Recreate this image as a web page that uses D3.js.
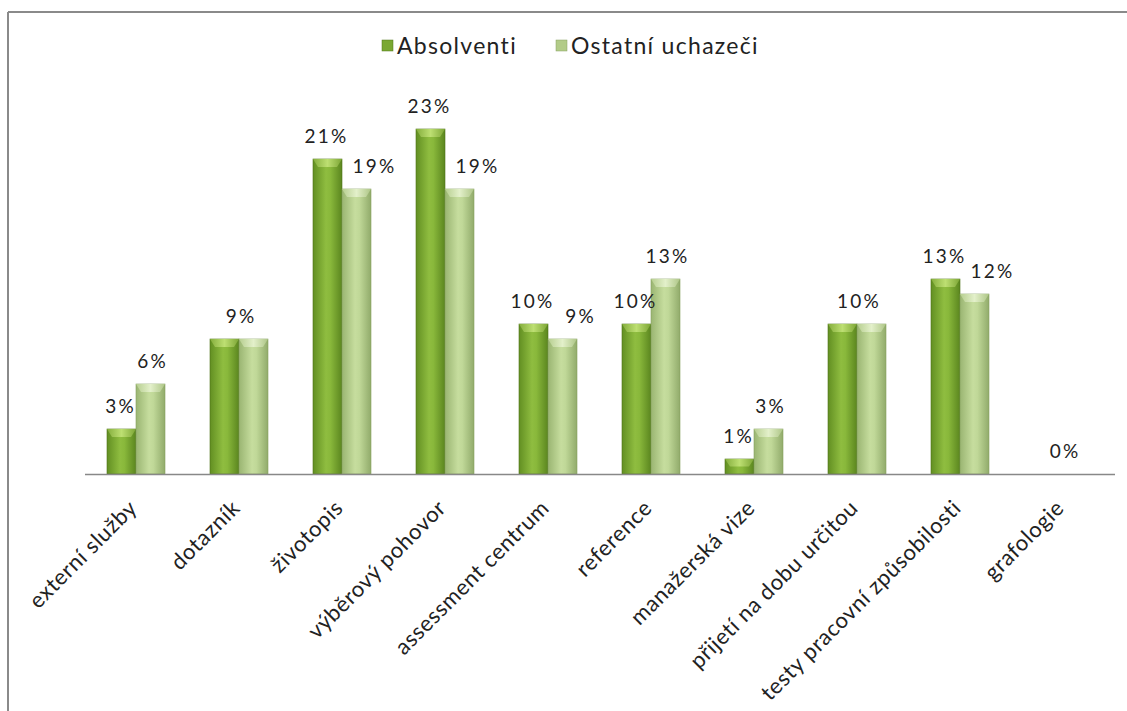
<!DOCTYPE html>
<html>
<head>
<meta charset="utf-8">
<script src="https://cdn.jsdelivr.net/npm/d3@7"></script>
<style>
  body { margin: 0; background: #fff; }
  text { font-family: Lato, "Open Sans", sans-serif; fill: #222; }
</style>
</head>
<body>
<svg id="chart" width="1127" height="711"></svg>
<script>
const categories = ["externí služby", "dotazník", "životopis", "výběrový pohovor", "assessment centrum",
    "reference", "manažerská vize", "přijetí na dobu určitou", "testy pracovní způsobilosti", "grafologie"];
const absolventi = [3, 9, 21, 23, 10, 10, 1, 10, 13, 0];
const ostatni = [6, 9, 19, 19, 9, 13, 3, 10, 12, 0];
const seriesNames = ["Absolventi", "Ostatní uchazeči"];

const svg = d3.select("#chart");
const baseY = 474;

// frame (only top and left edges are visible in the crop)
svg.append("line").attr("x1", 8).attr("y1", 12).attr("x2", 1127).attr("y2", 12)
    .attr("stroke", "#8a8a8a").attr("stroke-width", 2);
svg.append("line").attr("x1", 8).attr("y1", 12).attr("x2", 8).attr("y2", 711)
    .attr("stroke", "#8a8a8a").attr("stroke-width", 2);

const x = d3.scaleBand().domain(categories).range([84.5, 1114.5]).paddingInner(0).paddingOuter(0);
const inner = d3.scaleBand().domain(seriesNames).range([0, 58]);
const y = d3.scaleLinear().domain([0, 23]).range([baseY, baseY - 345]);

const defs = svg.append("defs");
function hGrad(id, stops) {
    const g = defs.append("linearGradient").attr("id", id).attr("x1", 0).attr("x2", 1).attr("y1", 0).attr("y2", 0);
    stops.forEach(([o, c]) => g.append("stop").attr("offset", o).attr("stop-color", c));
}
hGrad("gDark", [[0, "#628f22"], [0.45, "#8fbd40"], [0.6, "#89b83b"], [1, "#5b861f"]]);
hGrad("gLight", [[0, "#9ab572"], [0.45, "#c6dd9e"], [0.6, "#c0d898"], [1, "#91ab6b"]]);
hGrad("gDarkCap", [[0, "#84ad3c"], [0.5, "#bddf72"], [1, "#7ca535"]]);
hGrad("gLightCap", [[0, "#b6ce8f"], [0.5, "#e3f0ca"], [1, "#adc586"]]);

const fills = {"Absolventi": ["url(#gDark)", "url(#gDarkCap)", "#4f7419", "#7aa832"],
               "Ostatní uchazeči": ["url(#gLight)", "url(#gLightCap)", "#86a060", "#b2cb88"]};

const rows = categories.map((c, i) => ({cat: c, vals: [absolventi[i], ostatni[i]]}));

const groups = svg.append("g").selectAll("g").data(rows).join("g")
    .attr("transform", d => `translate(${x(d.cat) + (x.bandwidth() - 58) / 2},0)`);

groups.each(function (d) {
    const g = d3.select(this);
    seriesNames.forEach((s, k) => {
        const v = d.vals[k];
        if (v <= 0) return;
        const bx = inner(s), bw = inner.bandwidth();
        const top = y(v), h = baseY - top;
        g.append("rect").attr("x", bx).attr("y", top).attr("width", bw).attr("height", h)
            .attr("fill", fills[s][0]).attr("stroke", fills[s][2]).attr("stroke-width", 0.6);
        const cap = Math.min(8, h / 2);
        g.append("path")
            .attr("d", `M${bx},${top} L${bx + bw},${top} L${bx + bw - 5},${top + cap} L${bx + 5},${top + cap} Z`)
            .attr("fill", fills[s][1]);
    });
});

// data labels
function label(g, xPos, v) {
    g.append("text").attr("x", xPos).attr("y", y(v) - 16).attr("text-anchor", "middle")
        .attr("font-size", 19).attr("letter-spacing", 2.2).text(v + "%");
}
groups.each(function (d) {
    const g = d3.select(this);
    const [a, o] = d.vals;
    const bw = inner.bandwidth();
    if (a === o) {
        label(g, 31, a);
        return;
    }
    label(g, inner("Absolventi") + bw / 2 - 1, a);
    const shift = o < a ? 18 : 2;
    label(g, inner("Ostatní uchazeči") + bw / 2 + shift, o);
});

// axis
const axis = svg.append("g").attr("transform", `translate(0,${baseY})`)
    .call(d3.axisBottom(x).tickSize(0).tickSizeOuter(0).tickPadding(0));
axis.select(".domain").attr("stroke", "#888").attr("stroke-width", 1.5);
axis.selectAll(".tick text")
    .attr("font-size", 22).attr("font-family", "Lato, 'Open Sans', sans-serif").attr("fill", "#222")
    .attr("letter-spacing", 0.6)
    .attr("text-anchor", "end")
    .attr("transform", "translate(-3,30) rotate(-45)")
    .attr("dy", "0.35em").attr("y", 0);

// legend
const legend = svg.append("g").attr("transform", "translate(382,46)");
const legendX = [0, 174];
seriesNames.forEach((s, k) => {
    const lg = legend.append("g").attr("transform", `translate(${legendX[k]},0)`);
    lg.append("rect").attr("x", 0).attr("y", -6).attr("width", 11).attr("height", 11)
        .attr("fill", fills[s][3]).attr("stroke", fills[s][2]).attr("stroke-width", 0.5);
    lg.append("text").attr("x", 15).attr("y", 0).attr("dy", "0.35em").attr("font-size", 23)
        .attr("letter-spacing", 1.3).text(s);
});
</script>
</body>
</html>
